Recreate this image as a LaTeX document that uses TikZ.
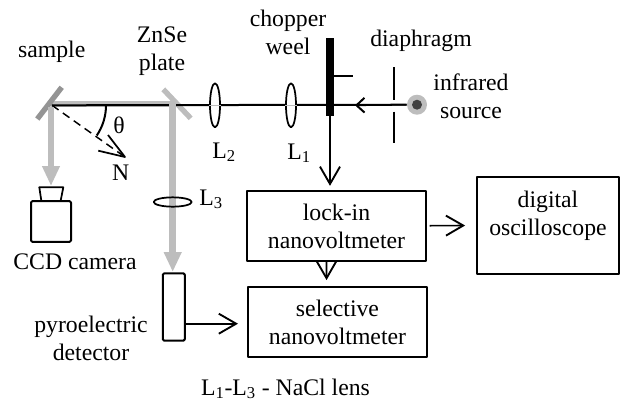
\documentclass[tikz,border=0pt]{standalone}
\usepackage{fontspec}
\setmainfont{Liberation Serif}
\usetikzlibrary{arrows.meta,shapes.geometric}
\definecolor{beamgray}{gray}{0.74}
\definecolor{mirrorgray}{gray}{0.58}
\begin{document}
\begin{tikzpicture}[x=0.75pt,y=-0.75pt,line join=round,
    txt/.style={anchor=base,inner sep=0pt,align=center,font=\fontsize{17.8}{21}\selectfont},
    unit/.style={draw,line width=1.3pt,inner sep=0pt,align=center,font=\fontsize{17.8}{21}\selectfont},
    beam/.style={draw=beamgray,line width=5pt},
    fatarrow/.style={draw=beamgray,line width=5.2pt,-{Triangle[length=15pt,width=12.5pt]}},
    openarrow/.style={line width=1.2pt,-{Straight Barb[length=13pt,width=15pt,line width=1.4pt]}},
    lens/.style={draw,ellipse,line width=1.3pt,inner sep=0pt}]
  \useasboundingbox (0,0) rectangle (621,401);
  \coordinate (beamstart) at (52,105.3);
  \coordinate (grayend) at (172.7,104);
  % light paths
  \draw[beam,line cap=round] (52,104) -- (grayend);
  \draw[mirrorgray,line width=4pt] (61.7,87.3) -- (37.3,119);
  \draw[beamgray,line width=4pt] (163.3,89.3) -- (190.7,118.3);
  \node[draw=none,fill=black,minimum width=6pt,minimum height=58.5pt,inner sep=0pt] (chopper) at (330,77) {};
  \node[circle,fill=beamgray,minimum size=15pt,inner sep=0pt] (source) at (417,104.7) {};
  \node[circle,fill=black!75,minimum size=7.5pt,inner sep=0pt] (core) at (source) {};
  \draw[line width=1.5pt] (beamstart) -- (source);
  \draw[line width=1.2pt,-{Straight Barb[length=6pt,width=11pt,line width=1.5pt]}] (source) -- (355,105.3);
  \draw[line width=1.5pt] (334,76) -- (352.7,76);
  \draw[line width=1.3pt] (394,67) -- (394,100);
  \draw[line width=1.3pt] (394,111.5) -- (394,143);
  \node[lens,fill=white,minimum width=7.5pt,minimum height=33pt] (lenstwo) at (215,105.3) {};
  \node[lens,fill=white,minimum width=7.5pt,minimum height=33pt] (lensone) at (291,105.3) {};
  \draw[beamgray,line width=1pt] (lenstwo.west) -- (lenstwo.east);
  \draw[beamgray,line width=1pt] (lensone.west) -- (lensone.east);
  % sample normal
  \coordinate (normaltip) at (125,157);
  \draw[line width=1.1pt,dashed,dash pattern=on 6pt off 4pt] (beamstart) -- (normaltip);
  \draw[line width=1.3pt] (108,135) -- (normaltip) -- (98.3,150.7);
  \draw[line width=1.5pt] (106,105.3) arc[start angle=0,end angle=34,radius=54];
  % camera
  \node[draw,line width=1.5pt,rounded corners=1pt,minimum width=30pt,minimum height=30.5pt,inner sep=0pt] (camera) at (51,221.5) {};
  \draw[line width=1.3pt] (41.3,200.5) -- (39.3,187.3) -- (63.3,187.3) -- (60.7,200.5);
  \coordinate (samplefoot) at (51,107);
  \draw[fatarrow] (samplefoot) -- (51,186);
  % detector path
  \node[draw,line width=1.5pt,rounded corners=1pt,minimum width=16.5pt,minimum height=50.5pt,inner sep=0pt] (detector) at (173.8,307) {};
  \draw[fatarrow] (grayend) -- (172.7,272);
  \node[lens,minimum width=28.5pt,minimum height=7pt] (lensthree) at (172.7,202) {};
  % electronics
  \node[unit,minimum width=134.5pt,minimum height=52.5pt] (lockin) at (336.5,225.7) {lock-in\rule{0pt}{13.5pt}\\nanovoltmeter};
  \node[unit,minimum width=134.5pt,minimum height=52.5pt] (selective) at (337.5,321.7) {selective\rule{0pt}{13.5pt}\\nanovoltmeter};
  \node[unit,minimum width=107pt,minimum height=73pt] (digital) at (548,225.5) {digital\\oscilloscope\rule[-18.5pt]{0pt}{0pt}};
  \draw[openarrow] (chopper.south) -- ([yshift=3pt]chopper.south |- lockin.north);
  \draw[openarrow] ([xshift=-7.5pt]lockin.south) -- ([xshift=-8.2pt,yshift=4.3pt]selective.north);
  \draw[openarrow] ([xshift=2pt]lockin.east) -- ([xshift=-8pt]digital.west);
  \draw[openarrow] (detector.east |- 0,323.7) -- (238,323.7);
  % labels
  \node[txt] (samplelabel) at (51.7,57) {sample};
  \node[txt] (platelabel) at (162,70) {ZnSe\\plate};
  \node[txt] (thetalabel) at (119,133) {θ};
  \node[txt] (normallabel) at (120.7,180) {N};
  \node[txt] (ltwolabel) at (224,158) {L\textsubscript{2}};
  \node[txt] (lonelabel) at (299,159) {L\textsubscript{1}};
  \node[txt] (chopperlabel) at (288,54) {chopper\\weel};
  \node[txt] (diaphragmlabel) at (421,46.7) {diaphragm};
  \node[txt] (sourcelabel) at (471,118.5) {infrared\\source};
  \node[txt] (lthreelabel) at (211,205) {L\textsubscript{3}};
  \node[txt] (cameralabel) at (75,269) {CCD camera};
  \node[txt] (detectorlabel) at (91,360) {pyroelectric\\detector};
  \node[txt] (lenslabel) at (285.5,395) {L\textsubscript{1}-L\textsubscript{3} - NaCl lens};
\end{tikzpicture}
\end{document}
